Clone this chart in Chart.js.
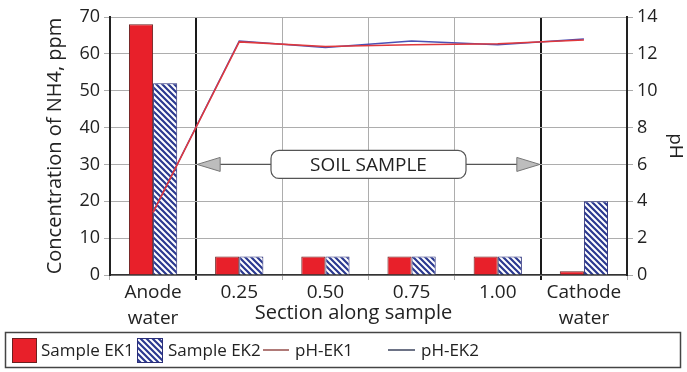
<!DOCTYPE html>
<html>
<head>
<meta charset="utf-8">
<script src="https://cdn.jsdelivr.net/npm/chart.js@4/dist/chart.umd.min.js"></script>
<style>
  html, body { margin: 0; padding: 0; background: #fff; }
  #wrap { width: 687px; height: 372px; }
</style>
</head>
<body>
<div id="wrap"><canvas id="chart" width="687" height="372"></canvas></div>
<script>
const sections = [['Anode', 'water'], '0.25', '0.50', '0.75', '1.00', ['Cathode', 'water']];
const sampleEK1 = [68, 5, 5, 5, 5, 1];
const sampleEK2 = [52, 5, 5, 5, 5, 20];
const phEK1 = [3.4, 12.65, 12.4, 12.5, 12.55, 12.75];
const phEK2 = [3.4, 12.7, 12.35, 12.7, 12.5, 12.8];

const FONT = "'Open Sans', 'DejaVu Sans', sans-serif";
const TEXT = '#222';

function makeHatch() {
  const c = document.createElement('canvas');
  c.width = 6; c.height = 6;
  const g = c.getContext('2d');
  g.fillStyle = '#fff';
  g.fillRect(0, 0, 6, 6);
  g.strokeStyle = '#2b3990';
  g.lineWidth = 2.2;
  g.beginPath();
  g.moveTo(-3, -3); g.lineTo(9, 9);
  g.moveTo(-3, 3); g.lineTo(3, 9);
  g.moveTo(3, -3); g.lineTo(9, 3);
  g.stroke();
  return g.createPattern(c, 'repeat');
}
const hatch = makeHatch();

// arrows + "SOIL SAMPLE" box, x title and the boxed legend
const extras = {
  id: 'extras',
  afterDatasetsDraw(chart) {
    const { ctx, scales } = chart;
    const xs = scales.x, ys = scales.y;
    const x0 = (xs.getPixelForValue(0) + xs.getPixelForValue(1)) / 2;
    const x1 = (xs.getPixelForValue(4) + xs.getPixelForValue(5)) / 2;
    const y = ys.getPixelForValue(30);
    const cx = (x0 + x1) / 2;
    const bw = 195, bh = 28;
    ctx.save();
    ctx.strokeStyle = '#555';
    ctx.lineWidth = 1.2;
    ctx.beginPath();
    ctx.moveTo(x0 + 20, y); ctx.lineTo(cx - bw / 2, y);
    ctx.moveTo(cx + bw / 2, y); ctx.lineTo(x1 - 20, y);
    ctx.stroke();
    [[x0 + 1, 1], [x1 - 1, -1]].forEach(([tx, d]) => {
      ctx.beginPath();
      ctx.moveTo(tx, y);
      ctx.lineTo(tx + d * 23, y - 7);
      ctx.lineTo(tx + d * 23, y + 7);
      ctx.closePath();
      ctx.fillStyle = '#bdbdbd';
      ctx.fill();
      ctx.strokeStyle = '#777';
      ctx.lineWidth = 1;
      ctx.stroke();
    });
    ctx.beginPath();
    ctx.roundRect(cx - bw / 2, y - bh / 2, bw, bh, 8);
    ctx.fillStyle = '#fff';
    ctx.fill();
    ctx.strokeStyle = '#555';
    ctx.lineWidth = 1.2;
    ctx.stroke();
    ctx.fillStyle = TEXT;
    ctx.font = '19px ' + FONT;
    ctx.textAlign = 'center';
    ctx.textBaseline = 'middle';
    ctx.fillText('SOIL SAMPLE', cx, y + 1);
    ctx.restore();
  },
  afterDraw(chart) {
    const { ctx, chartArea } = chart;
    ctx.save();
    ctx.fillStyle = TEXT;
    ctx.font = '20px ' + FONT;
    ctx.textAlign = 'center';
    ctx.textBaseline = 'middle';
    ctx.fillText('Section along sample', (chartArea.left + chartArea.right) / 2 - 15, chartArea.bottom + 38);

    // legend
    const ly = 350;
    ctx.font = '17px ' + FONT;
    ctx.strokeStyle = '#444';
    ctx.lineWidth = 1.5;
    ctx.strokeRect(5.5, 332.5, 675, 35);
    ctx.textAlign = 'left';
    ctx.fillStyle = '#e8202a';
    ctx.fillRect(12, 338, 24, 24);
    ctx.strokeStyle = '#6a2020';
    ctx.lineWidth = 1;
    ctx.strokeRect(12.5, 338.5, 24, 24);
    ctx.fillStyle = hatch;
    ctx.fillRect(137, 338, 25, 24);
    ctx.strokeStyle = '#2b2f7a';
    ctx.strokeRect(137.5, 338.5, 25, 24);
    ctx.lineWidth = 2;
    ctx.strokeStyle = '#b07a78';
    ctx.beginPath(); ctx.moveTo(263, ly); ctx.lineTo(289, ly); ctx.stroke();
    ctx.strokeStyle = '#6d7386';
    ctx.beginPath(); ctx.moveTo(388, ly); ctx.lineTo(415, ly); ctx.stroke();
    ctx.fillStyle = TEXT;
    ctx.fillText('Sample EK1', 41, ly + 1);
    ctx.fillText('Sample EK2', 168, ly + 1);
    ctx.fillText('pH-EK1', 295, ly + 1);
    ctx.fillText('pH-EK2', 421, ly + 1);
    ctx.restore();
  }
};

new Chart(document.getElementById('chart'), {
  type: 'bar',
  data: {
    labels: sections,
    datasets: [
      { label: 'pH-EK1', type: 'line', data: phEK1, yAxisID: 'y1', borderColor: '#e0383c', borderWidth: 1.5, pointRadius: 0, tension: 0, order: 0 },
      { label: 'pH-EK2', type: 'line', data: phEK2, yAxisID: 'y1', borderColor: '#4b50b4', borderWidth: 1.5, pointRadius: 0, tension: 0, order: 0 },
      { label: 'Sample EK1', data: sampleEK1, backgroundColor: '#e8202a', borderColor: '#6a2020', borderWidth: 1, order: 1 },
      { label: 'Sample EK2', data: sampleEK2, backgroundColor: hatch, borderColor: '#2b2f7a', borderWidth: 1, order: 1 }
    ]
  },
  options: {
    responsive: false,
    animation: false,
    datasets: { bar: { categoryPercentage: 0.56, barPercentage: 1 } },
    layout: { padding: { top: 17, left: 0, right: 0, bottom: 44 } },
    plugins: { legend: { display: false }, tooltip: { enabled: false } },
    scales: {
      x: {
        clip: false,
        grid: {
          color: ctx => (ctx.index === 1 || ctx.index === 5) ? '#1a1a1a' : '#adadad',
          lineWidth: ctx => (ctx.index === 1 || ctx.index === 5) ? 2 : 1,
          tickLength: 5
        },
        border: { color: '#333', width: 1.5 },
        ticks: { color: TEXT, font: { family: FONT, size: 19, lineHeight: 1.37 }, padding: 0, maxRotation: 0 },
        afterFit: s => { s.height = 53; }
      },
      y: {
        position: 'left',
        min: 0, max: 70,
        ticks: { stepSize: 10, color: TEXT, font: { family: FONT, size: 18 }, padding: 4 },
        grid: { color: '#adadad', tickLength: 6 },
        border: { color: '#222', width: 2 },
        title: { display: true, text: 'Concentration of NH4, ppm', color: TEXT, font: { family: FONT, size: 20 }, padding: { top: 43 } },
        afterFit: s => { s.width = 110; }
      },
      y1: {
        position: 'right',
        min: 0, max: 14,
        ticks: { stepSize: 2, color: TEXT, font: { family: FONT, size: 18 }, padding: 4 },
        grid: { drawOnChartArea: false, color: '#aaa', tickLength: 6 },
        border: { color: '#222', width: 2 },
        title: { display: true, text: 'pH', color: TEXT, font: { family: FONT, size: 19 }, padding: { top: 0 } },
        afterFit: s => { s.width = 60; }
      }
    }
  },
  plugins: [extras]
});
</script>
</body>
</html>
